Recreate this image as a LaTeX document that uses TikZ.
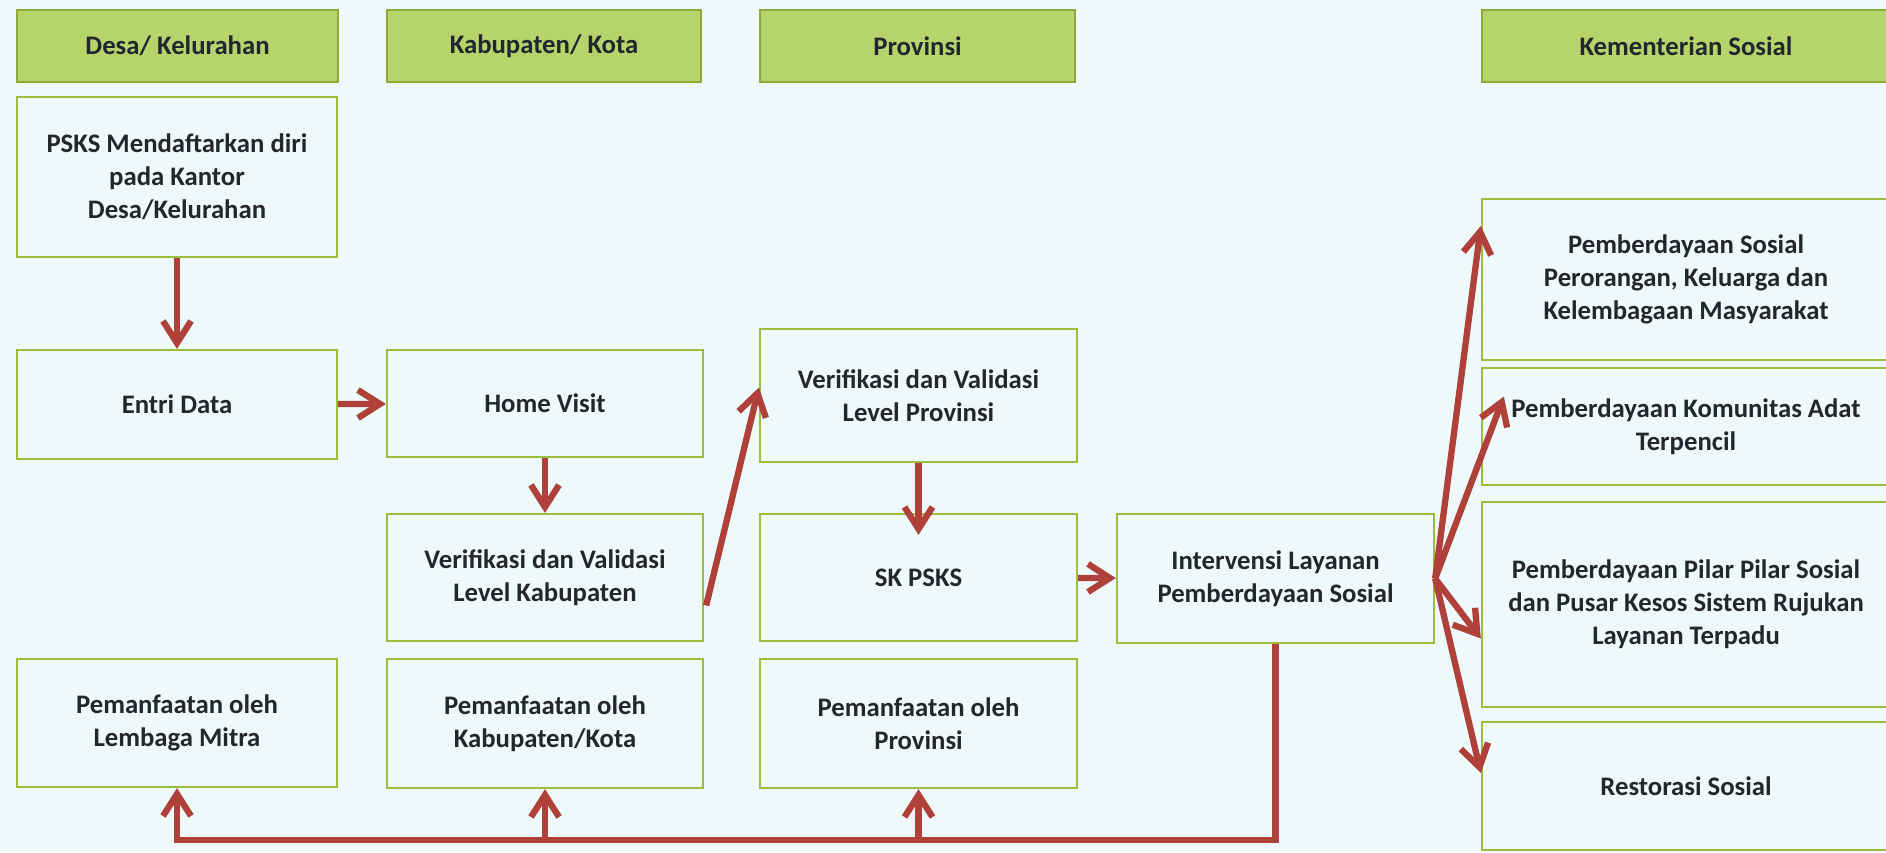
\documentclass[tikz,border=0pt]{standalone}
\usepackage{fontspec}
\setmainfont{Carlito}
\usepackage{xcolor}
\definecolor{bgCyan}{HTML}{EEF9F9}
\definecolor{headGreen}{HTML}{B5D46B}
\definecolor{edgeGreen}{HTML}{9CBE3C}
\definecolor{flowRed}{HTML}{B0403A}
\definecolor{inkNavy}{HTML}{23262F}
\usetikzlibrary{positioning,arrows.meta,calc}

\begin{document}
\begin{tikzpicture}[x=0.01cm, y=-0.01cm,
    every node/.style={font=\bfseries\fontsize{7.6}{9.4}\selectfont, text=inkNavy},
    head/.style={draw=edgeGreen!90!black, fill=headGreen, line width=0.6pt,
                 minimum height=0.72cm, inner sep=0pt, align=center},
    stage/.style={draw=edgeGreen, line width=0.6pt, inner sep=0pt, align=center},
    arr/.style={draw=flowRed, -{Straight Barb[length=2.2mm,width=2.8mm]},
                line width=1.8pt}]
  \useasboundingbox (0,0) rectangle (1886,852);
  \fill[bgCyan] (0,0) rectangle (1886,852);
  \clip (0,0) rectangle (1886,852);
  \node[head, minimum width=3.21cm] (hdesa) at (177.5,46) {Desa/ Kelurahan};
  \node[head, minimum width=3.14cm] (hkab) at (544,46) {Kabupaten/ Kota};
  \node[head, minimum width=3.15cm] (hprov) at (917.5,46) {Provinsi};
  \node[head, minimum width=4.08cm] (hkem) at (1686,46) {Kementerian Sosial};
  \node[stage, minimum width=3.2cm, minimum height=1.6cm] (psks) at (177,177)
       {PSKS Mendaftarkan diri\\pada Kantor\\Desa/Kelurahan};
  \node[stage, minimum width=3.2cm, minimum height=1.09cm] (entri) at (177,404.5) {Entri Data};
  \node[stage, minimum width=3.2cm, minimum height=1.28cm] (mitra) at (177,723)
       {Pemanfaatan oleh\\Lembaga Mitra};
  \node[stage, minimum width=3.16cm, minimum height=1.07cm] (home) at (545,403.5) {Home Visit};
  \node[stage, minimum width=3.16cm, minimum height=1.27cm] (verkab) at (545,577.5)
       {Verifikasi dan Validasi\\Level Kabupaten};
  \node[stage, minimum width=3.16cm, minimum height=1.29cm] (pemkab) at (545,723.5)
       {Pemanfaatan oleh\\Kabupaten/Kota};
  \node[stage, minimum width=3.17cm, minimum height=1.33cm] (verprov) at (918.5,395.5)
       {Verifikasi dan Validasi\\Level Provinsi};
  \node[stage, minimum width=3.17cm, minimum height=1.27cm] (skpsks) at (918.5,577.5) {SK PSKS};
  \node[stage, minimum width=3.17cm, minimum height=1.29cm] (pemprov) at (918.5,723.5)
       {Pemanfaatan oleh\\Provinsi};
  \node[stage, minimum width=3.17cm, minimum height=1.29cm] (interv) at (1275.5,578.5)
       {Intervensi Layanan\\Pemberdayaan Sosial};
  \node[stage, minimum width=4.08cm, minimum height=1.61cm] (orang) at (1686,279.5)
       {Pemberdayaan Sosial\\Perorangan, Keluarga dan\\Kelembagaan Masyarakat};
  \node[stage, minimum width=4.08cm, minimum height=1.17cm] (adat) at (1686,426.5)
       {Pemberdayaan Komunitas Adat\\Terpencil};
  \node[stage, minimum width=4.08cm, minimum height=2.05cm] (pilar) at (1686,604.5)
       {Pemberdayaan Pilar Pilar Sosial\\dan Pusar Kesos Sistem Rujukan\\Layanan Terpadu};
  \node[stage, minimum width=4.08cm, minimum height=1.28cm] (resto) at (1686,786) {Restorasi Sosial};
  \coordinate (base) at (0,840);
  \draw[arr] (psks) -- (entri);
  \draw[arr] (entri) -- (home);
  \draw[arr] (home) -- (verkab);
  \draw[arr] ($(verkab.east)+(2,28)$) -- ($(verprov.west)+(0,-8)$);
  \draw[arr] (verprov.south) -- ($(skpsks.north)+(0,22)$);
  \draw[arr] (skpsks) -- (interv);
  \draw[arr] (interv.east) -- ($(orang.north west)+(0,28)$);
  \draw[arr] (interv.east) -- ($(adat.west)+(23,-30)$);
  \draw[arr] (interv.east) -- ($(pilar.west)+(0,34)$);
  \draw[arr] (interv.east) -- ($(resto.west)+(0,-13)$);
  \draw[arr] (interv.south) |- (mitra.south |- base) -- (mitra.south);
  \draw[arr] (pemkab.south |- base) -- (pemkab.south);
  \draw[arr] (pemprov.south |- base) -- (pemprov.south);
\end{tikzpicture}
\end{document}
